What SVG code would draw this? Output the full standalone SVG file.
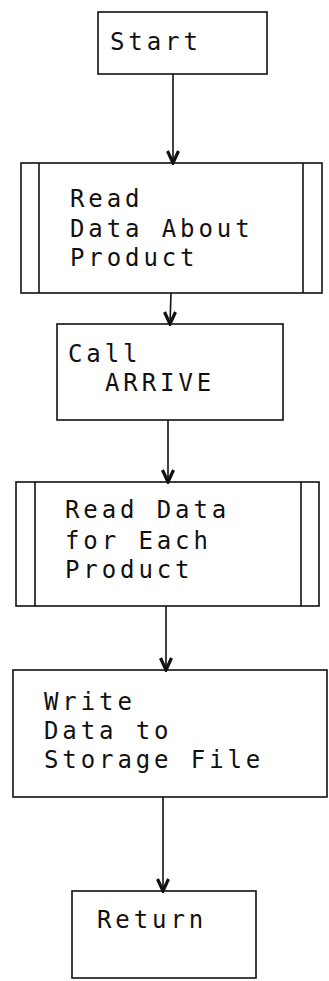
<svg xmlns="http://www.w3.org/2000/svg" width="329" height="981" viewBox="0 0 329 981">
  <style>
    .box { fill: none; stroke: #111; stroke-width: 1.6; }
    .edge { fill: none; stroke: #111; stroke-width: 1.6; }
    .lbl { font-family: "DejaVu Sans Mono", "Liberation Mono", monospace; font-size: 24px; letter-spacing: 3.9px; fill: #111; }
  </style>
  <defs>
    <!-- heavy open chevron pointing down, tip at the end of each flow line -->
    <marker id="arrow" markerUnits="userSpaceOnUse" markerWidth="18" markerHeight="18" refX="9" refY="16" orient="0" viewBox="0 0 18 18">
      <path d="M3.5,4 L9,16 L14.5,4" fill="none" stroke="#111" stroke-width="3.2" stroke-linejoin="miter"/>
    </marker>
  </defs>
  <rect width="329" height="981" fill="#fff"/>

  <g id="connectors">
    <line class="edge" x1="173" y1="74" x2="173" y2="163" marker-end="url(#arrow)"/>
    <line class="edge" x1="171" y1="293" x2="170" y2="324" marker-end="url(#arrow)"/>
    <line class="edge" x1="168" y1="420" x2="168" y2="482" marker-end="url(#arrow)"/>
    <line class="edge" x1="166" y1="606" x2="166" y2="670" marker-end="url(#arrow)"/>
    <line class="edge" x1="163" y1="797" x2="163" y2="891" marker-end="url(#arrow)"/>
  </g>

  <g id="start">
    <rect class="box" x="98" y="12" width="169" height="62"/>
    <text class="lbl" x="110" y="50">Start</text>
  </g>

  <g id="read-about-product">
    <rect class="box" x="21" y="163" width="301" height="130"/>
    <line class="box" x1="39" y1="163" x2="39" y2="293"/>
    <line class="box" x1="303" y1="163" x2="303" y2="293"/>
    <text class="lbl" x="70" y="207">Read</text>
    <text class="lbl" x="70" y="237">Data About</text>
    <text class="lbl" x="70" y="266">Product</text>
  </g>

  <g id="call-arrive">
    <rect class="box" x="57" y="324" width="226" height="96"/>
    <text class="lbl" x="68" y="362">Call</text>
    <text class="lbl" x="105" y="391">ARRIVE</text>
  </g>

  <g id="read-each-product">
    <rect class="box" x="16" y="482" width="303" height="124"/>
    <line class="box" x1="35" y1="482" x2="35" y2="606"/>
    <line class="box" x1="301" y1="482" x2="301" y2="606"/>
    <text class="lbl" x="65" y="518">Read Data</text>
    <text class="lbl" x="65" y="549">for Each</text>
    <text class="lbl" x="65" y="578">Product</text>
  </g>

  <g id="write-storage">
    <rect class="box" x="13" y="670" width="314" height="127"/>
    <text class="lbl" x="44" y="710">Write</text>
    <text class="lbl" x="44" y="739">Data to</text>
    <text class="lbl" x="44" y="768">Storage File</text>
  </g>

  <g id="return">
    <rect class="box" x="72" y="891" width="184" height="87"/>
    <text class="lbl" x="97" y="928">Return</text>
  </g>
</svg>
